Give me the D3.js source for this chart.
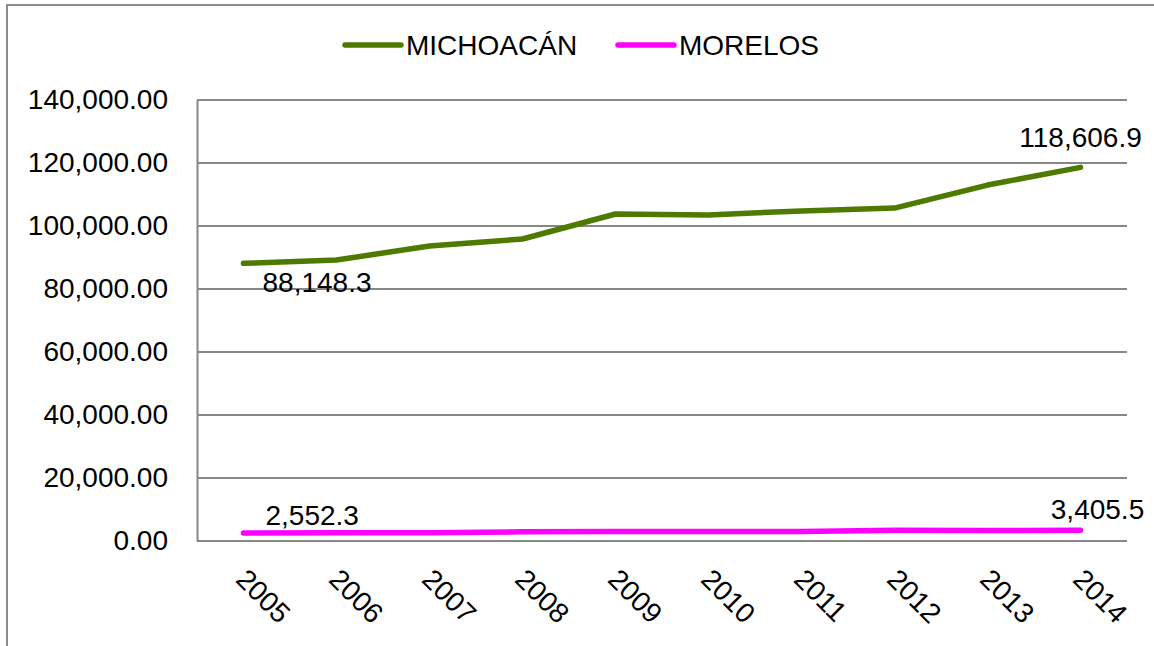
<!DOCTYPE html>
<html><head><meta charset="utf-8">
<script src="https://cdn.jsdelivr.net/npm/d3@7"></script>
<style>
body{margin:0;background:#fff;}
svg{display:block;font-family:"Liberation Sans",Arial,sans-serif;}
</style></head>
<body><svg id="c" width="1154" height="646"></svg>
<script>
const years = ["2005","2006","2007","2008","2009","2010","2011","2012","2013","2014"];
const michoacan = [88148.3, 89200, 93650, 95870, 103800, 103500, 104800, 105700, 113000, 118606.9];
const morelos = [2552.3, 2580, 2600, 2900, 3050, 2980, 3020, 3380, 3350, 3405.5];
const yTicks = [0, 20000, 40000, 60000, 80000, 100000, 120000, 140000];
const seriesNames = ["MICHOACÁN", "MORELOS"];
const seriesColors = ["#4f7a00", "#ff00ff"];

const svg = d3.select("#c");
const W = 1154, H = 646;
const m = {l:197, r:1127, t:100, b:541};

// outer border
svg.append("rect").attr("x",7).attr("y",5).attr("width",W+10).attr("height",H+10)
  .attr("fill","none").attr("stroke","#8c8c8c").attr("stroke-width",2);

const x = d3.scaleBand().domain(years).range([m.l, m.r]);
const y = d3.scaleLinear().domain([0, 140000]).range([m.b, m.t]);
const fmt = d3.format(",.2f");
const fmt1 = d3.format(",.1f");

// gridlines
svg.append("g").selectAll("line").data(yTicks.filter(d=>d>0)).join("line")
  .attr("x1",m.l).attr("x2",m.r).attr("y1",d=>y(d)).attr("y2",d=>y(d))
  .attr("stroke","#878787").attr("stroke-width",2);

// y axis
const ya = svg.append("g").attr("transform",`translate(${m.l},0)`)
  .call(d3.axisLeft(y).tickValues(yTicks).tickFormat(fmt).tickSize(0).tickPadding(29));
ya.select(".domain").attr("stroke","#878787").attr("stroke-width",2);
ya.selectAll("text").attr("font-size",28).attr("fill","#000")
  .attr("font-family",'"Liberation Sans",Arial,sans-serif');

// x axis line
svg.append("line").attr("x1",m.l).attr("x2",m.r).attr("y1",m.b).attr("y2",m.b)
  .attr("stroke","#878787").attr("stroke-width",2);

// x labels rotated
svg.append("g").selectAll("text").data(years).join("text")
  .attr("transform",d=>`translate(${x(d)+x.bandwidth()/2-9},${m.b+40}) rotate(45)`)
  .attr("font-size",28).attr("fill","#000").text(d=>d);

const line = d3.line().x((d,i)=>x(years[i])+x.bandwidth()/2).y(d=>y(d));
[michoacan, morelos].forEach((s,k)=>{
  svg.append("path").datum(s).attr("d",line).attr("fill","none")
    .attr("stroke",seriesColors[k]).attr("stroke-width",5.5)
    .attr("stroke-linecap","round").attr("stroke-linejoin","round");
});

// data labels
const cx = i => x(years[i])+x.bandwidth()/2;
const labels = [
  {v:michoacan[0], i:0, dx:19, dy:29, a:"start"},
  {v:michoacan[9], i:9, dx:0, dy:-20, a:"middle"},
  {v:morelos[0], i:0, dx:22, dy:-8, a:"start"},
  {v:morelos[9], i:9, dx:17, dy:-11, a:"middle"}
];
svg.append("g").selectAll("text").data(labels).join("text")
  .attr("x",d=>cx(d.i)+d.dx).attr("y",d=>y(d.v)+d.dy)
  .attr("text-anchor",d=>d.a).attr("font-size",28).attr("fill","#000")
  .text(d=>fmt1(d.v));

// legend
const leg = [{x0:345, tx:406}, {x0:618, tx:679}];
leg.forEach((L,k)=>{
  svg.append("line").attr("x1",L.x0).attr("x2",L.x0+56).attr("y1",45).attr("y2",45)
    .attr("stroke",seriesColors[k]).attr("stroke-width",5.5).attr("stroke-linecap","round");
  svg.append("text").attr("x",L.tx).attr("y",55).attr("font-size",28).attr("fill","#000")
    .text(seriesNames[k]);
});
</script></body></html>
